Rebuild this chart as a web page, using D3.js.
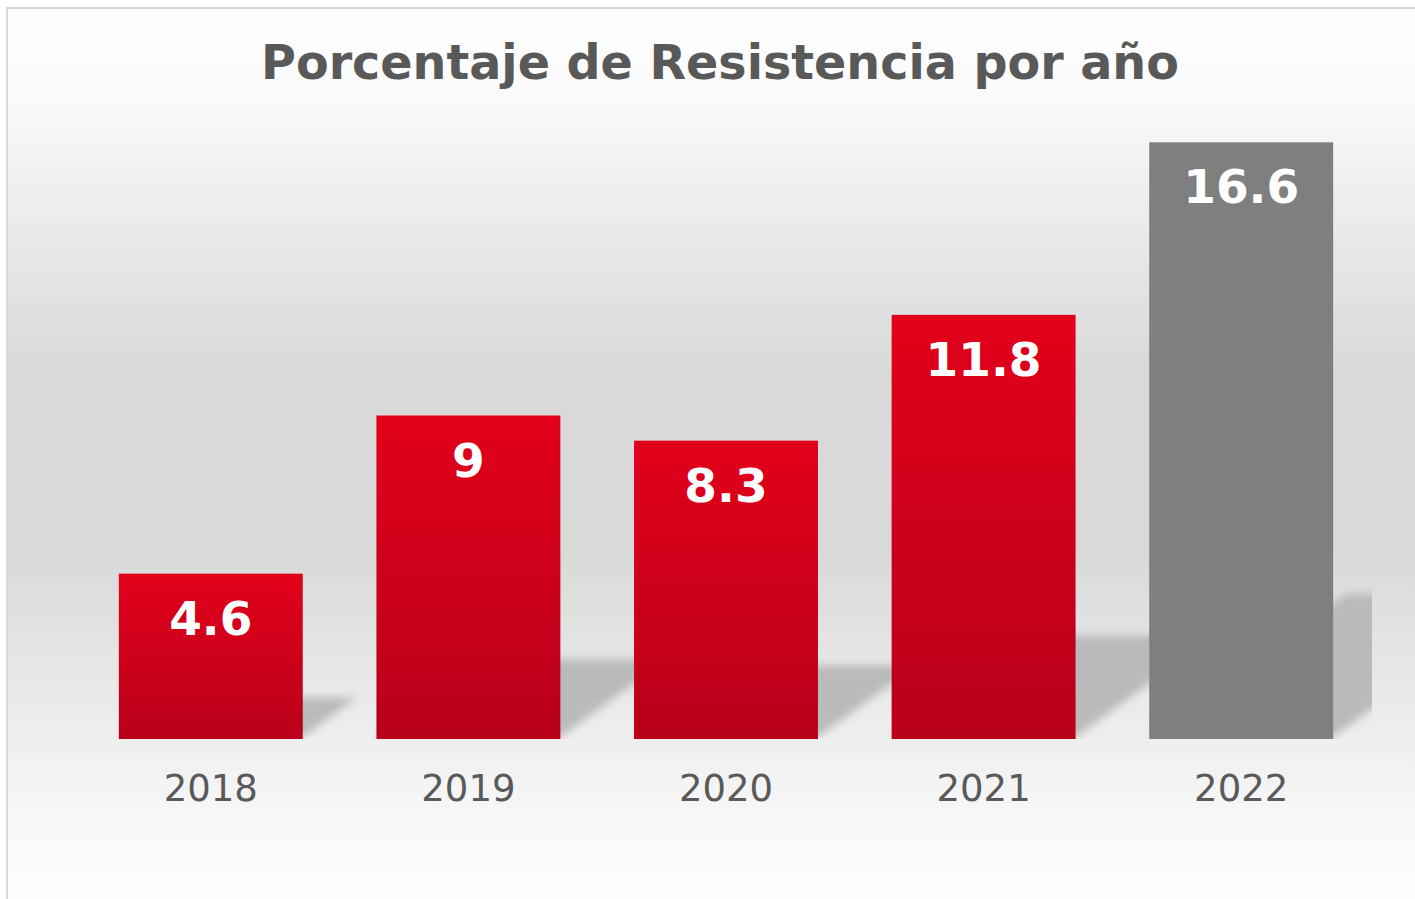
<!DOCTYPE html>
<html>
<head>
<meta charset="utf-8">
<script src="https://cdn.jsdelivr.net/npm/d3@7"></script>
<style>
  body { margin: 0; background: #fff; }
  svg { display: block; }
</style>
</head>
<body>
<svg id="chart" width="1415" height="899"></svg>
<script>
// Data
const years = ['2018', '2019', '2020', '2021', '2022'];
const resistance = [4.6, 9, 8.3, 11.8, 16.6];
const title = 'Porcentaje de Resistencia por año';

const width = 1415, height = 899;
const plot = { left: 82, right: 1370, top: 92, bottom: 739 };

const svg = d3.select('#chart');
const defs = svg.append('defs');

// background gradient of the chart area
const bg = defs.append('linearGradient').attr('id', 'bg').attr('x1', 0).attr('y1', 0).attr('x2', 0).attr('y2', 1);
[[0, '#ffffff'], [0.1, '#fafafa'], [0.4, '#d9d9d9'], [0.6, '#d9d9d9'], [0.9, '#f8f8f8'], [1, '#ffffff']]
  .forEach(([o, c]) => bg.append('stop').attr('offset', o).attr('stop-color', c));

// red bar gradient
const red = defs.append('linearGradient').attr('id', 'red').attr('x1', 0).attr('y1', 0).attr('x2', 0).attr('y2', 1);
red.append('stop').attr('offset', 0).attr('stop-color', '#e2001a');
red.append('stop').attr('offset', 1).attr('stop-color', '#b8001a');

defs.append('filter').attr('id', 'blur').attr('x', '-20%').attr('y', '-20%').attr('width', '140%').attr('height', '140%')
  .append('feGaussianBlur').attr('stdDeviation', 4);

defs.append('clipPath').attr('id', 'plotClip')
  .append('rect').attr('x', 0).attr('y', 0).attr('width', plot.right + 2).attr('height', plot.bottom);

// chart area
svg.append('rect')
  .attr('x', 7).attr('y', 8)
  .attr('width', 1440).attr('height', 905)
  .attr('fill', 'url(#bg)')
  .attr('stroke', '#d9d9d9').attr('stroke-width', 2);

// title
svg.append('text')
  .attr('x', 720).attr('y', 79)
  .attr('text-anchor', 'middle')
  .attr('font-family', 'DejaVu Sans, Verdana, sans-serif')
  .attr('font-weight', 'bold')
  .attr('font-size', 47.6)
  .attr('fill', '#595959')
  .text(title);

// Scales
const x = d3.scaleBand().domain(years).range([plot.left, plot.right]).paddingInner(0.286).paddingOuter(0.143);
const y = d3.scaleLinear().domain([0, 18]).range([plot.bottom, plot.top]);

const data = years.map((yr, i) => ({ year: yr, value: resistance[i] }));

// shadows
const shadows = svg.append('g').attr('clip-path', 'url(#plotClip)');
shadows.selectAll('polygon')
  .data(data)
  .enter()
  .append('polygon')
  .attr('points', d => {
    const x0 = x(d.year), x1 = x0 + x.bandwidth();
    const h = y(0) - y(d.value);
    const dx = h * 0.33, dy = h * 0.24;
    const b = y(0) - 2;
    return [[x0, b], [x1, b], [x1 + dx, b - dy], [x0 + dx, b - dy]].map(p => p.join(',')).join(' ');
  })
  .attr('fill', '#bababa')
  .attr('filter', 'url(#blur)');

// bars
svg.append('g').selectAll('rect')
  .data(data)
  .enter()
  .append('rect')
  .attr('x', d => x(d.year))
  .attr('y', d => y(d.value))
  .attr('width', x.bandwidth())
  .attr('height', d => y(0) - y(d.value))
  .attr('fill', (d, i) => i === data.length - 1 ? '#7f7f7f' : 'url(#red)');

// value labels
svg.append('g').selectAll('text')
  .data(data)
  .enter()
  .append('text')
  .attr('x', d => x(d.year) + x.bandwidth() / 2)
  .attr('y', d => y(d.value) + 61)
  .attr('text-anchor', 'middle')
  .attr('font-family', 'DejaVu Sans, Verdana, sans-serif')
  .attr('font-weight', 'bold')
  .attr('font-size', 47)
  .attr('fill', '#ffffff')
  .text(d => d.value);

// category axis
const axis = svg.append('g')
  .attr('transform', `translate(0,${plot.bottom})`)
  .call(d3.axisBottom(x).tickSize(0).tickPadding(24));
axis.select('.domain').remove();
axis.selectAll('text')
  .attr('font-family', 'DejaVu Sans, Verdana, sans-serif')
  .attr('font-size', 37)
  .attr('fill', '#595959')
  .attr('dy', 0)
  .attr('y', 62);
</script>
</body>
</html>
